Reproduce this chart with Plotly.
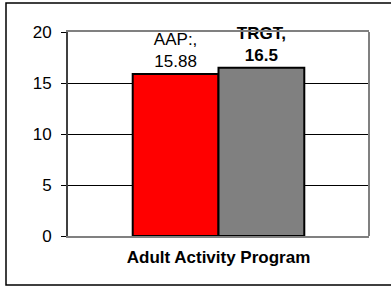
import plotly.graph_objects as go

categories = ["Adult Activity Program"]
series_names = ["AAP:", "TRGT"]
aap_values = [15.88]
trgt_values = [16.5]
y_ticks = [0, 5, 10, 15, 20]

FONT = "Liberation Sans, Arial, sans-serif"
FS = 17

fig = go.Figure()
fig.add_trace(go.Bar(
    x=categories, y=aap_values, name=series_names[0],
    marker=dict(color="#FF0000", line=dict(color="black", width=2)),
    text=[f"{series_names[0]},<br>{v}" for v in aap_values],
    textposition="outside", constraintext="none", cliponaxis=False,
    textfont=dict(family=FONT, size=FS, color="black"),
))
fig.add_trace(go.Bar(
    x=categories, y=trgt_values, name=series_names[1],
    marker=dict(color="#808080", line=dict(color="black", width=2)),
    text=[f"<b>{series_names[1]},<br>{v}</b>" for v in trgt_values],
    textposition="outside", constraintext="none", cliponaxis=False,
    textfont=dict(family=FONT, size=FS, color="black"),
))

fig.update_layout(
    width=391, height=286,
    margin=dict(l=68, r=22, t=32, b=50),
    paper_bgcolor="white", plot_bgcolor="white",
    barmode="group", bargap=0.43, bargroupgap=0,
    showlegend=False,
    font=dict(family=FONT, size=FS, color="black"),
    xaxis=dict(
        showline=True, linecolor="#808080", linewidth=2, mirror=True,
        showgrid=False, ticks="", tickfont=dict(family=FONT, size=FS, weight="bold"),
        ticklabelstandoff=5,
    ),
    yaxis=dict(
        range=[0, 20], tickvals=y_ticks, showgrid=True, gridcolor="black", gridwidth=1,
        zeroline=False, showline=True, linecolor="#404040", linewidth=2,
        ticks="outside", ticklen=5, tickcolor="black", tickwidth=1,
        tickfont=dict(family=FONT, size=FS), ticklabelstandoff=6,
    ),
    shapes=[
        dict(type="rect", xref="paper", yref="paper",
             x0=(6 - 68) / 301, x1=(400 - 68) / 301,
             y0=(286 - 285 - 50) / 204, y1=(286 - 3 - 50) / 204,
             line=dict(color="black", width=1.5), layer="below"),
        dict(type="line", xref="paper", yref="paper", x0=1, x1=1, y0=0, y1=1,
             line=dict(color="#808080", width=2)),
    ],
)

fig.write_html("out.html", config={"displayModeBar": False},
               post_script="document.body.style.margin='0';")
